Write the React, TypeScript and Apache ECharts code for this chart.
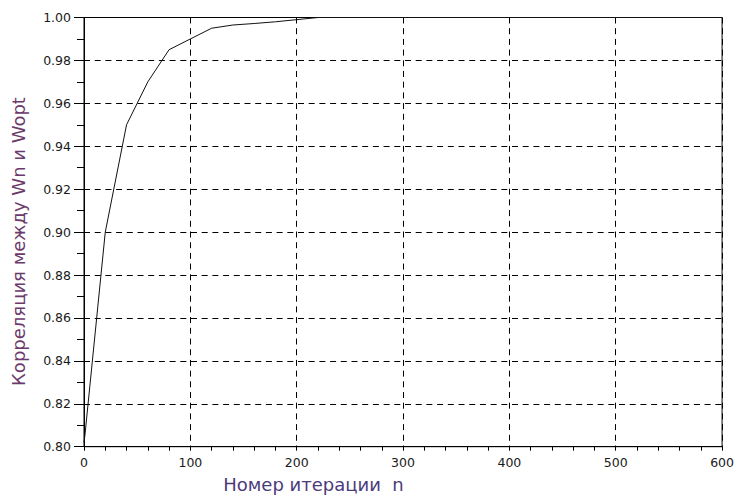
import React, { useEffect, useRef } from "react";
import * as echarts from "echarts";

const iterations = [0, 1, 20, 40, 60, 80, 100, 120, 140, 160, 180, 200, 220, 600];
const correlation = [0.802, 0.806, 0.9, 0.95, 0.97, 0.985, 0.99, 0.995, 0.9965, 0.9972, 0.998, 0.999, 1.0, 1.0];

const xAxisTitle = "Номер итерации  n";
const yAxisTitle = "Корреляция между Wn и Wopt";

export default function App() {
  const ref = useRef<HTMLDivElement>(null);
  useEffect(() => {
    if (!ref.current) return;
    const chart = echarts.init(ref.current, null, { renderer: "svg" });
    const data = iterations.map((n, i) => [n, correlation[i]]);
    const tickFont = { fontFamily: "DejaVu Sans", fontSize: 12.5, color: "#1a1a1a" };
    chart.setOption({
      animation: false,
      backgroundColor: "#fff",
      grid: {
        left: 84,
        right: 11,
        top: 17.5,
        bottom: 50.3,
        show: true,
        borderColor: "#000",
        borderWidth: 1,
        backgroundColor: "transparent",
      },
      xAxis: {
        type: "value",
        min: 0,
        max: 600,
        interval: 100,
        axisLine: { show: true, onZero: false, lineStyle: { color: "#000", width: 1 } },
        axisTick: { show: true, length: 4, lineStyle: { color: "#000" } },
        minorTick: { show: true, splitNumber: 5, length: 4, lineStyle: { color: "#000" } },
        axisLabel: { ...tickFont, margin: 9, showMinLabel: true, showMaxLabel: true },
        splitLine: { show: true, lineStyle: { color: "#000", type: [6, 4.7], width: 1 } },
      },
      yAxis: {
        type: "value",
        min: 0.8,
        max: 1.0,
        interval: 0.02,
        axisLine: { show: true, onZero: false, lineStyle: { color: "#000", width: 1 } },
        axisTick: { show: true, length: 10, lineStyle: { color: "#000" } },
        minorTick: { show: true, splitNumber: 2, length: 7, lineStyle: { color: "#000" } },
        axisLabel: {
          ...tickFont,
          margin: 13,
          formatter: (v: number) => v.toFixed(2),
        },
        splitLine: { show: true, lineStyle: { color: "#000", type: [6, 4.7], width: 1 } },
      },
      graphic: [
        {
          type: "text",
          x: 313.5,
          y: 484,
          style: {
            text: xAxisTitle,
            font: "18px 'DejaVu Sans'",
            fill: "#4b3a7a",
            align: "center",
            verticalAlign: "middle",
          },
        },
        {
          type: "text",
          x: 18.5,
          y: 241.5,
          rotation: Math.PI / 2,
          style: {
            text: yAxisTitle,
            font: "18px 'DejaVu Sans'",
            fill: "#6b3a6b",
            align: "center",
            verticalAlign: "middle",
          },
        },
      ],
      series: [
        {
          type: "line",
          data,
          showSymbol: false,
          symbol: "none",
          lineStyle: { color: "#111", width: 1 },
          clip: false,
        },
      ],
    });
    return () => chart.dispose();
  }, []);
  return <div ref={ref} style={{ width: 737, height: 497, position: "absolute", left: 0, top: 0 }} />;
}
